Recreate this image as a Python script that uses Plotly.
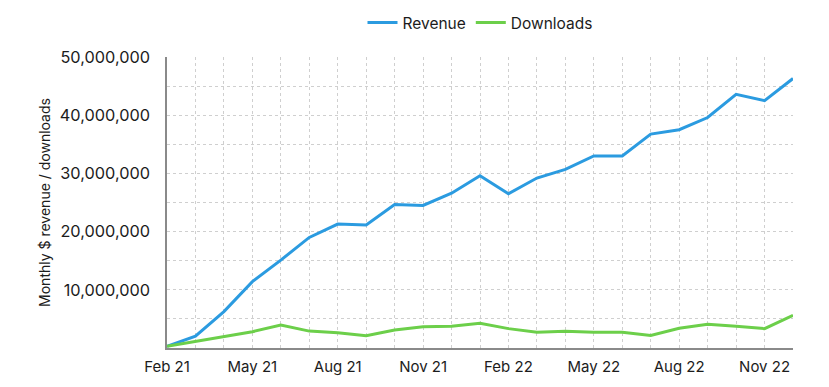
import plotly.graph_objects as go

months = ["Feb 21", "Mar 21", "Apr 21", "May 21", "Jun 21", "Jul 21", "Aug 21", "Sep 21",
          "Oct 21", "Nov 21", "Dec 21", "Jan 22", "Feb 22", "Mar 22", "Apr 22", "May 22",
          "Jun 22", "Jul 22", "Aug 22", "Sep 22", "Oct 22", "Nov 22", "Dec 22"]
revenue = [300000, 2050000, 6250000, 11400000, 15100000, 19000000, 21300000, 21150000,
           24650000, 24500000, 26600000, 29600000, 26500000, 29200000, 30700000, 33000000,
           33000000, 36750000, 37500000, 39600000, 43600000, 42500000, 46300000]
downloads = [300000, 1100000, 1950000, 2800000, 3950000, 2900000, 2600000, 2100000,
             3100000, 3670000, 3730000, 4240000, 3330000, 2700000, 2870000, 2700000,
             2700000, 2170000, 3380000, 4070000, 3730000, 3330000, 5620000]
shown_months = ["Feb 21", "May 21", "Aug 21", "Nov 21", "Feb 22", "May 22", "Aug 22", "Nov 22"]
y_tickvals = [0, 5e6, 10e6, 15e6, 20e6, 25e6, 30e6, 35e6, 40e6, 45e6, 50e6]
y_ticktext = ["", "", "10,000,000", "", "20,000,000", "", "30,000,000", "", "40,000,000", "", "50,000,000"]

FONT = "Inter, Lato, sans-serif"
TEXT = "#1c1c1c"

fig = go.Figure()
fig.add_trace(go.Scatter(x=months, y=revenue, name="Revenue", mode="lines",
                         line=dict(color="#2b9be0", width=3)))
fig.add_trace(go.Scatter(x=months, y=downloads, name="Downloads", mode="lines",
                         line=dict(color="#6ccf4a", width=3)))

# the page body adds an 8px margin, so the figure is sized to fit the 829x387 window
fig.update_layout(
    width=821, height=379,
    margin=dict(l=159, r=36, t=49, b=39, autoexpand=False),
    paper_bgcolor="white", plot_bgcolor="white",
    font=dict(family=FONT, color=TEXT, size=15),
    legend=dict(orientation="h", x=0.5, xanchor="center", y=1.117, yanchor="middle",
                font=dict(size=15.5, color=TEXT), itemwidth=30),
    showlegend=True,
)
fig.update_xaxes(
    type="category", range=[0, len(months) - 1],
    tickmode="array", tickvals=months,
    ticktext=[m if m in shown_months else "" for m in months],
    showgrid=True, gridcolor="#cfcfcf", griddash="dot", gridwidth=1,
    showline=True, linecolor="#8a8a8a", linewidth=1.5,
    ticks="", tickfont=dict(size=15, color=TEXT), ticklabelstandoff=4,
    zeroline=False, automargin=False,
)
fig.update_yaxes(
    range=[0, 50e6], tickmode="array", tickvals=y_tickvals, ticktext=y_ticktext,
    showgrid=True, gridcolor="#cfcfcf", griddash="dot", gridwidth=1,
    showline=True, linecolor="#8a8a8a", linewidth=1.5,
    ticks="", tickfont=dict(size=16.3, color=TEXT), ticklabelstandoff=12,
    zeroline=False, automargin=False,
    title=dict(text="Monthly $ revenue / downloads", font=dict(size=14, color=TEXT), standoff=6),
)

fig.write_html("out.html")
